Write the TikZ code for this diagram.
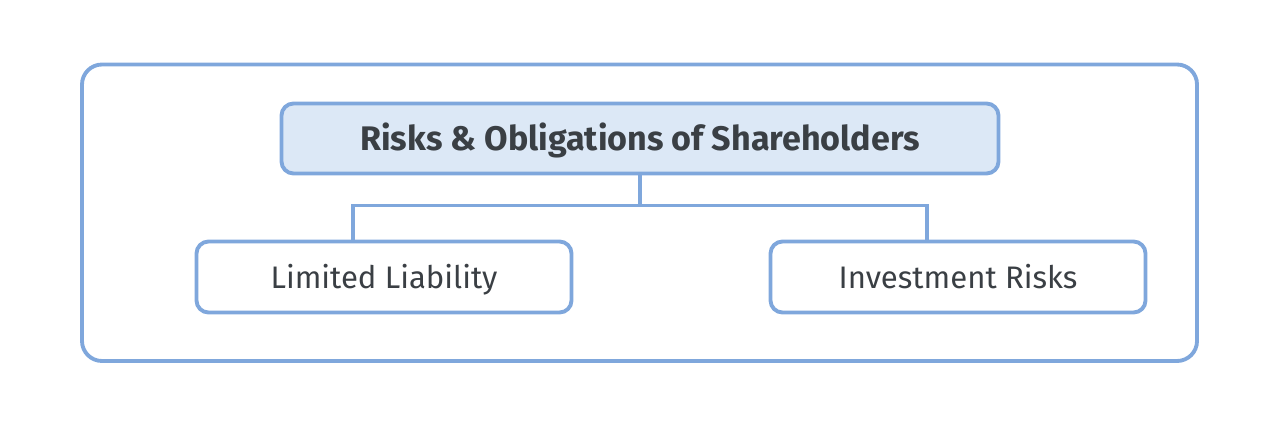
\documentclass[tikz,border=0pt]{standalone}
\usepackage{fontspec}
\setmainfont{Fira Sans}
\usepackage{xcolor}
\usetikzlibrary{positioning}
\usetikzlibrary{calc}
\usetikzlibrary{math}

\definecolor{boxline}{HTML}{7FA7DC}
\definecolor{boxfill}{HTML}{DCE8F6}
\definecolor{boxtext}{HTML}{3A3F44}

\begin{document}
\begin{tikzpicture}[line width=1.1pt,
  rootbox/.style={draw=boxline, fill=boxfill, rounded corners=0.12cm,
    minimum width=7.17cm, minimum height=0.70cm, inner sep=0pt,
    text height=0.88em, text depth=0.2em,
    text=boxtext, font=\fontsize{9.7}{11}\selectfont\bfseries},
  leafbox/.style={draw=boxline, fill=white, rounded corners=0.12cm,
    minimum width=3.75cm, minimum height=0.71cm, inner sep=0pt,
    text height=0.88em, text depth=0.2em,
    text=boxtext, font=\fontsize{8.85}{10}\selectfont},
  link/.style={draw=boxline}]

  \tikzmath{
    \drop  = 0.30; % height from root box to the bar
    \shift = 0.31; % offset of the legs from the leaf centres
  }

  % canvas
  \useasboundingbox (0,0) rectangle (12.8,4.27);

  % frame round everything
  \draw[boxline, rounded corners=0.2cm] (0.82,0.66) rectangle (11.97,3.625);

  % root and leaves
  \node[rootbox] (risks) at (6.40,2.885) {Risks \& Obligations of Shareholders};
  \node[leafbox] (limited) at (3.84,1.50) {Limited Liability};
  \node[leafbox] (invest) at (9.58,1.50) {Investment Risks};

  % where the legs meet the leaves
  \coordinate (limitedtop) at ($ (limited.north) + (-\shift,0) $);
  \coordinate (investtop)  at ($ (invest.north)  + (-\shift,0) $);

  % connectors
  \draw[link] (risks.south) -- ++(0,-\drop) -| (limitedtop);
  \draw[link] (risks.south) -- ++(0,-\drop) -| (investtop);

\end{tikzpicture}
\end{document}
